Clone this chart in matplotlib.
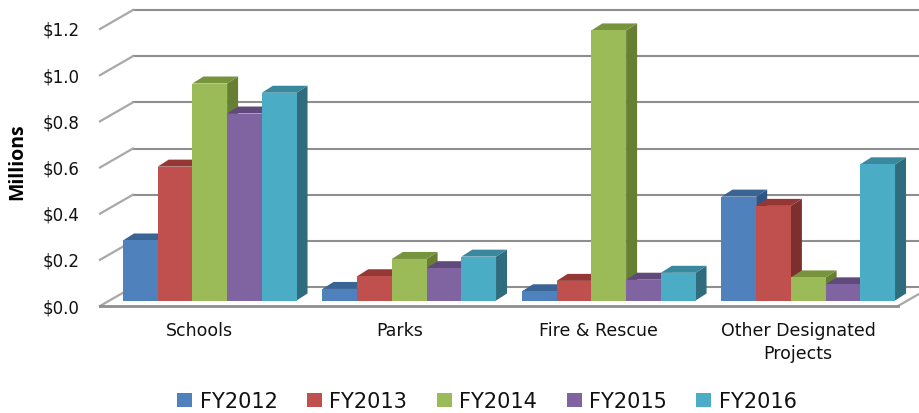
import matplotlib
matplotlib.use("Agg")
import matplotlib.pyplot as plt
import numpy as np
from matplotlib.patches import Polygon
from matplotlib.lines import Line2D
from matplotlib.transforms import Affine2D, IdentityTransform

categories = ["Schools", "Parks", "Fire & Rescue", "Other Designated\nProjects"]
series_names = ["FY2012", "FY2013", "FY2014", "FY2015", "FY2016"]
fy2012 = [0.26, 0.05, 0.04, 0.45]
fy2013 = [0.58, 0.105, 0.085, 0.41]
fy2014 = [0.94, 0.18, 1.17, 0.10]
fy2015 = [0.81, 0.14, 0.09, 0.07]
fy2016 = [0.90, 0.19, 0.12, 0.59]
series = [fy2012, fy2013, fy2014, fy2015, fy2016]
ticks = [0.0, 0.2, 0.4, 0.6, 0.8, 1.0, 1.2]
tick_labels = ["$0.0", "$0.2", "$0.4", "$0.6", "$0.8", "$1.0", "$1.2"]

front = ["#4f81bd", "#c0504d", "#9bbb59", "#8064a2", "#4bacc6"]
top = ["#3a6494", "#953735", "#77933c", "#604a7b", "#3a889e"]
side = ["#2e5585", "#7c2f2d", "#667f33", "#54406c", "#2f6c7d"]
grid_c = "#8e8e8e"

W, H = 919, 413
fig = plt.figure(figsize=(W / 100, H / 100), dpi=100, facecolor="white")
ax = fig.add_axes([100 / W, (H - 306) / H, 798 / W, 277 / H])
ax.set_xlim(-0.5, 3.5)
ax.set_ylim(0, 1.2)
for s in ax.spines.values():
    s.set_visible(False)

ident = IdentityTransform()
WALL = (33, 19)      # floor depth, px
BAR_OFF = (10, 5.5)  # bar plane behind the front edge, px
DEPTH = (11, 7)      # bar depth, px
bar_tr = ax.transData + Affine2D().translate(*BAR_OFF)
fig.canvas.draw()
to_px = ax.transData.transform

# wall grid and left-hand diagonals
for t in ticks:
    x0, y0 = to_px((-0.5, t))
    x1, _ = to_px((3.5, t))
    ax.add_line(Line2D([x0 + WALL[0], W + 5], [y0 + WALL[1]] * 2, transform=ident,
                       color=grid_c, lw=1.5, clip_on=False, zorder=1))
    ax.add_line(Line2D([x0, x0 + WALL[0]], [y0, y0 + WALL[1]], transform=ident,
                       color="#a8a8a8", lw=1.6, clip_on=False, zorder=1))
# floor right edge and front edge
x0, y0 = to_px((-0.5, 0))
x1, _ = to_px((3.5, 0))
ax.add_line(Line2D([x1, x1 + WALL[0]], [y0, y0 + WALL[1]], transform=ident,
                   color="#a8a8a8", lw=1.6, clip_on=False, zorder=1))
ax.add_line(Line2D([x0, x1], [y0, y0], transform=ident, color=grid_c, lw=2.0,
                   clip_on=False, zorder=1.6))

width = 0.174
x = np.arange(len(categories))
handles = []
for i, vals in enumerate(series):
    z = 2 + i
    pos = x + (i - 2) * width
    bars = ax.bar(pos, vals, width=width, color=front[i], linewidth=0,
                  transform=bar_tr, zorder=z + 0.2, clip_on=False)
    handles.append(bars[0])
    for p, v in zip(pos, vals):
        xl, yb = to_px((p - width / 2, 0)) + BAR_OFF
        xr, yt = to_px((p + width / 2, v)) + BAR_OFF
        dx, dy = DEPTH
        ax.add_patch(Polygon([(xr, yb), (xr + dx, yb + dy), (xr + dx, yt + dy), (xr, yt)],
                             transform=ident, fc=side[i], ec="none", zorder=z, clip_on=False))
        ax.add_patch(Polygon([(xl, yt), (xl + dx, yt + dy), (xr + dx, yt + dy), (xr, yt)],
                             transform=ident, fc=top[i], ec="none", zorder=z + 0.1, clip_on=False))

ax.set_yticks(ticks)
ax.set_yticklabels(tick_labels, fontsize=12, color="#111111", family="DejaVu Sans")
ax.set_xticks(x)
ax.set_xticklabels(categories, fontsize=12.5, color="#111111", family="DejaVu Sans", linespacing=1.35)
ax.tick_params(axis="y", length=0, pad=14.4)
ax.tick_params(axis="x", length=0, pad=11.5)

fig.text(17 / W, (H - 162) / H, "Millions", rotation=90, ha="center", va="center",
         fontsize=14, fontweight="bold", family="Open Sans", color="black")

leg = fig.legend(handles, series_names, ncol=5, frameon=False, fontsize=15,
                 loc="center", bbox_to_anchor=(487 / W, (H - 401.5) / H),
                 handlelength=0.72, handleheight=0.62, handletextpad=0.38,
                 columnspacing=1.4, borderpad=0, labelcolor="#111111")

fig.savefig("out.png", dpi=100, facecolor="white")
